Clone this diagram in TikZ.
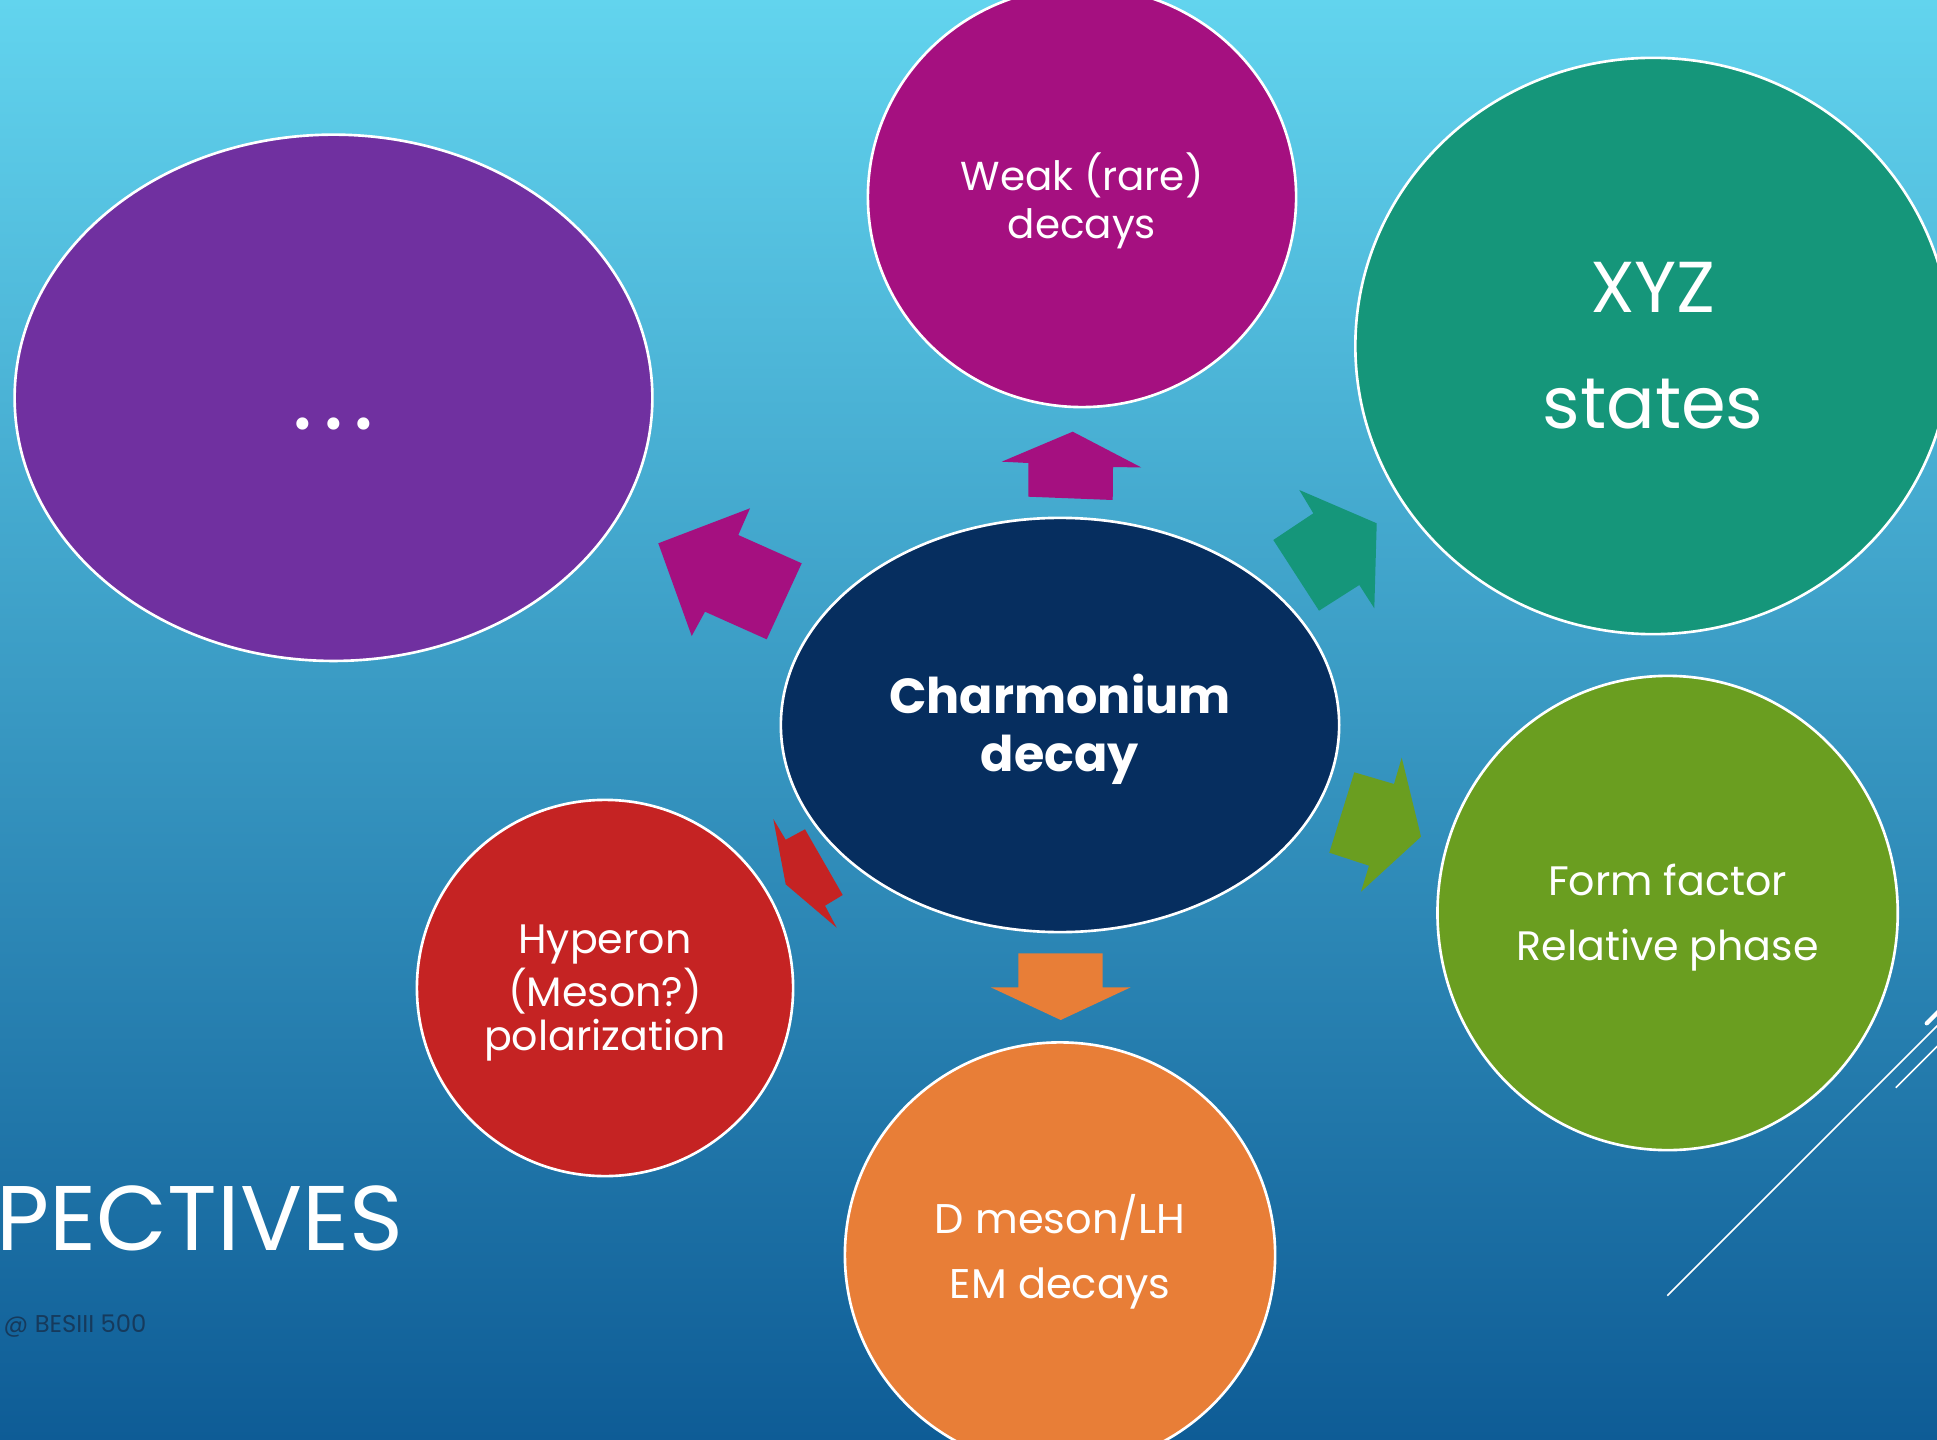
\documentclass[tikz,border=0pt]{standalone}
\usepackage{fontspec}
\setmainfont{Poppins}
\usetikzlibrary{shapes.geometric}

\definecolor{bgtop}{RGB}{98,212,238}
\definecolor{bgmid}{RGB}{64,163,205}
\definecolor{bgbot}{RGB}{14,92,150}
\definecolor{cpurple}{RGB}{112,48,160}
\definecolor{cmagenta}{RGB}{165,16,128}
\definecolor{cteal}{RGB}{21,150,122}
\definecolor{cnavy}{RGB}{6,46,95}
\definecolor{cgreen}{RGB}{106,158,32}
\definecolor{cred}{RGB}{197,35,35}
\definecolor{corange}{RGB}{232,126,55}
\definecolor{cfoot}{RGB}{22,58,92}

\newcommand\fsz[2]{\fontsize{#1}{#2}\selectfont}

\tikzset{
  topic/.style={ellipse, draw=white, line width=0.75pt, inner sep=0pt,
                text=white, align=center},
  caption/.style={text=white, inner sep=0pt, align=center},
  blockarrow/.style={draw=none},
  deco/.style={draw=white, line width=0.45pt}
}

\begin{document}
\begin{tikzpicture}[x=0.01cm, y=-0.01cm]
  \useasboundingbox (0,0) rectangle (1937,1440);
  \clip (0,0) rectangle (1937,1440);

  % backdrop
  \shade[top color=bgtop, middle color=bgmid, bottom color=bgbot]
    (0,0) rectangle (1937,1440);

  % topic bubbles
  \node[topic, fill=cpurple, minimum width=6.374cm, minimum height=5.26cm]
    (other) at (333.5,397.8) {};
  \node[topic, fill=cmagenta, minimum width=4.28cm, minimum height=4.20cm]
    (weak) at (1082,197) {};
  \node[topic, fill=cteal, minimum width=5.95cm, minimum height=5.76cm]
    (xyz) at (1653,346) {};
  \node[topic, fill=cnavy, minimum width=5.58cm, minimum height=4.14cm]
    (charm) at (1060,725) {};
  \node[topic, fill=cgreen, minimum width=4.60cm, minimum height=4.74cm]
    (form) at (1667.6,913) {};
  \node[topic, fill=cred, minimum width=3.76cm, minimum height=3.76cm]
    (hyp) at (605,988) {};
  \node[topic, fill=corange, minimum width=4.30cm, minimum height=4.25cm]
    (dmes) at (1060,1255) {};

  % bubble texts
  \node[caption, font=\fsz{28}{30}] (dots) at (333.5,424)
    {.\hspace{2.8pt}.\hspace{2.8pt}.};
  \node[caption, font=\fsz{11.5}{13.7}] (weakt) at (1082,201)
    {Weak (rare)\\decays};
  \node[caption, font=\fsz{20.5}{33}] (xyzt) at (1653,346) {XYZ\\states};
  \node[caption, font=\fsz{14}{16.5}\bfseries] (charmt) at (1060,729)
    {Charmonium\\decay};
  \node[caption, font=\fsz{11.7}{18.5}] (formt) at (1667.6,918)
    {Form factor\\Relative phase};
  \node[caption, font=\fsz{11.7}{12.6}] (hypt) at (605,993)
    {Hyperon\\(Meson?)\\polarization};
  \node[caption, font=\fsz{11.8}{18.5}] (dmest) at (1060,1252)
    {D meson/LH\\EM decays};

  % block arrows pointing out of the central bubble
  \fill[cmagenta, blockarrow] (658.3,543.3) -- (750,508.3) -- (738.3,535)
    -- (801.7,563.3) -- (766.7,639.3) -- (705,611.7) -- (691.7,636) -- cycle;
  \fill[cmagenta, blockarrow] (1072.7,431.7) -- (1141.4,467.5) -- (1113,467)
    -- (1112.7,500) -- (1028.3,496.7) -- (1028.3,463) -- (1001.7,461.7) -- cycle;
  \fill[cteal, blockarrow] (1376.7,523.3) -- (1374.3,608.3) -- (1359.3,585)
    -- (1319,610.7) -- (1273.3,540) -- (1313.3,513.3) -- (1299.3,490) -- cycle;
  \fill[cgreen, blockarrow] (1421,836.7) -- (1361,891.7) -- (1369,865.7)
    -- (1329.3,852.7) -- (1354.3,772.3) -- (1394,784) -- (1401.7,757.7) -- cycle;
  \fill[cred, blockarrow] (773.3,819) -- (785.7,839.7) -- (805,829.3)
    -- (842.7,895) -- (825,905.7) -- (836.7,927.7) -- (785.7,884.3) -- cycle;
  \fill[corange, blockarrow] (1018.3,953.3) -- (1102.7,953.3) -- (1102.7,987.3)
    -- (1130.7,987.3) -- (1060.7,1020) -- (990.7,987.3) -- (1018.3,987.3) -- cycle;

  % slide title and footer
  \node[anchor=base west, inner sep=0pt, text=white, font=\fsz{26.1}{30}]
    (title) at (-4,1250) {PECTIVES};
  \node[anchor=base west, inner sep=0pt, text=cfoot, font=\fsz{6.9}{9}]
    (foot) at (3,1332) {@ BESIII 500};

  % corner strokes
  \draw[deco] (1667.3,1295.7) -- (1945,1018);
  \draw[deco] (1895.7,1087.7) -- (1945,1038.4);
  \draw[draw=white, line width=1.2pt, line cap=round] (1926.7,1023.3) -- (1945,1005);
\end{tikzpicture}
\end{document}
